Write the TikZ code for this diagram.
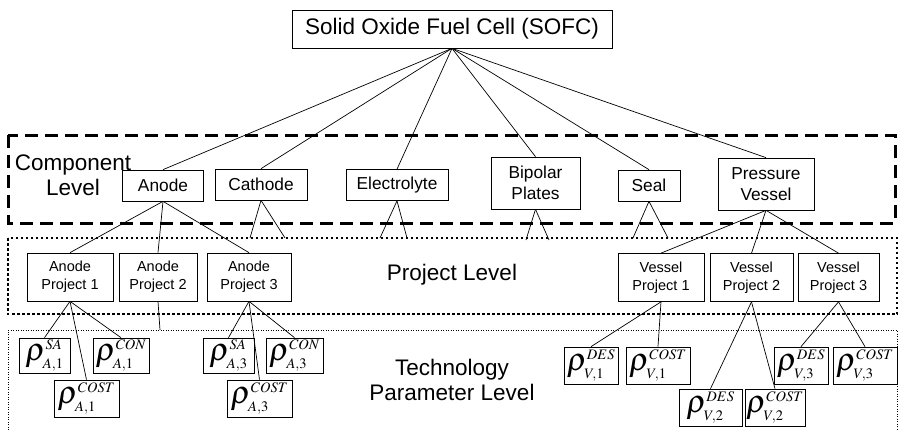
\documentclass[tikz,border=0pt]{standalone}
\usepackage{mathptmx}
\usepackage[no-math]{fontspec}
\setmainfont{Liberation Sans}
\DeclareMathSizes{32}{32}{14.5}{10}
\newcommand{\rh}[2]{\fontsize{32}{34}\selectfont$\rho^{#1}_{#2}$}

\begin{document}
\begin{tikzpicture}[x=1pt, y=-1pt, line width=.7pt,
  lbl/.style={align=center, font=\fontsize{22.5}{25}\selectfont},
  comp/.style={draw, align=center, inner sep=0pt, font=\fontsize{17.3}{21}\selectfont},
  proj/.style={draw, align=center, inner sep=0pt, minimum height=48, font=\fontsize{14.5}{18}\selectfont},
  parm/.style={draw, inner sep=0pt, minimum height=35}]
  \useasboundingbox (0,0) rectangle (898,431);

  % level frames
  \draw [line width=3pt, dash pattern=on 13pt off 7pt] (8,135) rectangle (895,223);
  \draw [line width=2.5pt, dash pattern=on 2.5pt off 2.5pt] (8,238) rectangle (897,314);
  \draw [line width=.8pt, dash pattern=on 1pt off 1.5pt] (8,440) -- (8,330) -- (897,330) -- (897,440);

  \node [lbl] (complbl) at (73,175) {Component\\Level};
  \node [lbl] (projlbl) at (452,275) {Project Level};
  \node [lbl] (techlbl) at (452,380) {Technology\\Parameter Level};

  \node [draw, inner sep=0pt, minimum width=320, minimum height=38, font=\fontsize{22.5}{25}\selectfont] (sofc) at (452,29) {Solid Oxide Fuel Cell (SOFC)};

  % components
  \node [comp, minimum width=81, minimum height=31] (anode) at (163,185.5) {Anode};
  \node [comp, minimum width=92, minimum height=31] (cathode) at (261,184.5) {Cathode};
  \node [comp, minimum width=102, minimum height=31] (electrolyte) at (397,185) {Electrolyte};
  \node [comp, minimum width=89, minimum height=52] (bipolar) at (535.5,183) {Bipolar\\Plates};
  \node [comp, minimum width=62, minimum height=31] (seal) at (649,185.5) {Seal};
  \node [comp, minimum width=96, minimum height=52] (vessel) at (766,184) {Pressure\\Vessel};

  % projects
  \node [proj, minimum width=86] (ap1) at (70,277) {Anode\\Project 1};
  \node [proj, minimum width=78] (ap2) at (158,277) {Anode\\Project 2};
  \node [proj, minimum width=84] (ap3) at (249,277) {Anode\\Project 3};
  \node [proj, minimum width=86] (vp1) at (661,277.5) {Vessel\\Project 1};
  \node [proj, minimum width=83] (vp2) at (751.5,277.5) {Vessel\\Project 2};
  \node [proj, minimum width=81] (vp3) at (838.5,277.5) {Vessel\\Project 3};

  % technology parameters
  \node [parm, minimum width=51] (sa1) at (44.5,355.5) {\rh{SA}{A,1}};
  \node [parm, minimum width=56] (con1) at (121,355.5) {\rh{CON}{A,1}};
  \node [parm, minimum width=65, minimum height=37] (cost1) at (86.5,398.5) {\rh{COST}{A,1}};
  \node [parm, minimum width=51] (sa3) at (228.5,355.5) {\rh{SA}{A,3}};
  \node [parm, minimum width=57] (con3) at (294.5,355.5) {\rh{CON}{A,3}};
  \node [parm, minimum width=65, minimum height=37] (cost3) at (259.5,398.5) {\rh{COST}{A,3}};
  \node [parm, minimum width=54, minimum height=37] (des1) at (591,365.5) {\rh{DES}{V,1}};
  \node [parm, minimum width=64, minimum height=37] (costv1) at (658,365.5) {\rh{COST}{V,1}};
  \node [parm, minimum width=63, minimum height=37] (des2) at (710.5,407.5) {\rh{DES}{V,2}};
  \node [parm, minimum width=60, minimum height=37] (costv2) at (775,407.5) {\rh{COST}{V,2}};
  \node [parm, minimum width=54, minimum height=37] (des3) at (801,365.5) {\rh{DES}{V,3}};
  \node [parm, minimum width=64, minimum height=37] (costv3) at (865,365.5) {\rh{COST}{V,3}};

  % loose ends on the project frame
  \coordinate (c1) at (250,238); \coordinate (c2) at (285,238);
  \coordinate (e1) at (380,238); \coordinate (e2) at (407,238);
  \coordinate (b1) at (526,240); \coordinate (b2) at (549,240);
  \coordinate (s1) at (633,238); \coordinate (s2) at (668,238);
  \coordinate (p2) at (160,330);

  \foreach \c in {anode,cathode,electrolyte,bipolar,seal,vessel}
    \draw (sofc.south) -- (\c.north);
  \draw (cathode.south) -- (c1); \draw (cathode.south) -- (c2);
  \draw (electrolyte.south) -- (e1); \draw (electrolyte.south) -- (e2);
  \draw (bipolar.south) -- (b1); \draw (bipolar.south) -- (b2);
  \draw (seal.south) -- (s1); \draw (seal.south) -- (s2);
  \foreach \p in {ap1,ap2,ap3}
    \draw (anode.south) -- (\p.north);
  \foreach \p in {vp1,vp2,vp3}
    \draw (vessel.south) -- (\p.north);
  \draw (ap2.south) -- (p2);
  \foreach \t in {sa1,con1,cost1}
    \draw (ap1.south) -- (\t.north);
  \foreach \t in {sa3,con3,cost3}
    \draw (ap3.south) -- (\t.north);
  \draw (vp1.south) -- (des1.north); \draw (vp1.south) -- (costv1.north);
  \draw (vp2.south) -- (des2.north); \draw (vp2.south) -- (costv2.north);
  \draw (vp3.south) -- (des3.north); \draw (vp3.south) -- (costv3.north);
\end{tikzpicture}
\end{document}
